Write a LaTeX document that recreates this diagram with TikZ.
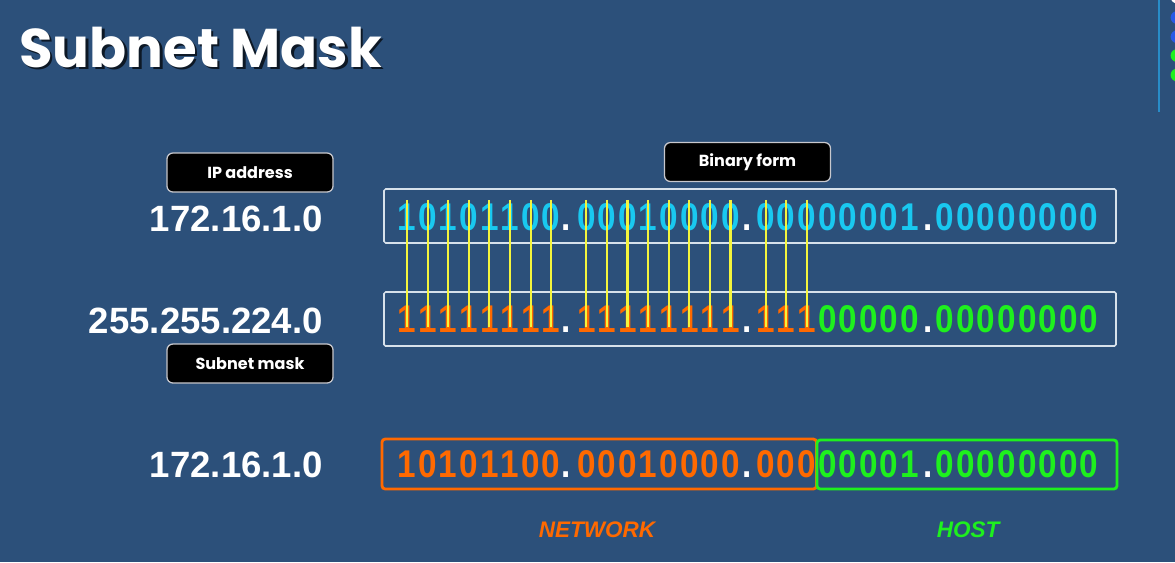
\documentclass[tikz,border=0pt]{standalone}
\usepackage{fontspec}
\setmainfont{Liberation Sans}
\newfontfamily\tagfont{Poppins}
\newfontfamily\bitfont[FakeStretch=0.86]{Liberation Sans}
\usepackage{tikz}
\usetikzlibrary{positioning, calc}
\definecolor{slidebg}{RGB}{44,80,122}
\definecolor{ipblue}{RGB}{25,200,240}
\definecolor{netorange}{RGB}{255,105,0}
\definecolor{hostgreen}{RGB}{30,240,30}
\definecolor{linkyellow}{RGB}{245,245,60}
\definecolor{boxedge}{RGB}{215,225,235}
\definecolor{tagedge}{RGB}{200,200,205}
\definecolor{sideblue}{RGB}{40,140,200}
\definecolor{dotblue}{RGB}{40,90,230}
\tikzset{
	bitnum/.style={anchor=base, inner sep=0pt, font=\bitfont\fontsize{27.5}{30}\selectfont\bfseries}
}
\tikzset{
	addrnum/.style={anchor=base east, inner sep=0pt, text=white, font=\fontsize{26}{30}\selectfont\bfseries}
}
\tikzset{
	tagbox/.style={draw=tagedge, fill=black, text=white, line width=0.9pt, rounded corners=0.15cm,
		minimum width=4.15cm, minimum height=0.975cm, font=\tagfont\bfseries\fontsize{11.4}{13}\selectfont},
	rowbox/.style={draw=boxedge, line width=1.1pt, rounded corners=0.04cm},
	bitlink/.style={draw=linkyellow, line width=1.5pt, shorten <=-0.07cm, shorten >=0.12cm},
	fieldlabel/.style={inner sep=0pt, font=\fontsize{16}{18}\selectfont\bfseries\itshape}
}
\newcommand{\ipbits}{1,0,1,0,1,1,0,0,0,0,0,1,0,0,0,0,0,0,0,0,0,0,0,1,0,0,0,0,0,0,0,0}
\newcommand{\maskbits}{1,1,1,1,1,1,1,1,1,1,1,1,1,1,1,1,1,1,1,0,0,0,0,0,0,0,0,0,0,0,0,0}

\begin{document}
\begin{tikzpicture}[>=stealth, x=0.025cm, y=-0.025cm]
      \fill[slidebg] (0,0) rectangle (1175,562);
      \useasboundingbox (0,0) rectangle (1175,562);
      \clip (0,0) rectangle (1175,562);
      % title with shadow
      \node[anchor=base west, inner sep=0pt, text=black!70!slidebg, font=\tagfont\bfseries\fontsize{38.8}{44}\selectfont] (titleshadow) at (21.5,69.5) {Subnet Mask};
      \node[anchor=base west, inner sep=0pt, text=white, font=\tagfont\bfseries\fontsize{38.8}{44}\selectfont] (title) at (19,67) {Subnet Mask};
      % side bar and dots
      \draw[sideblue, line width=1.4pt] (1159,0) -- (1159,112);
      \fill[white] (1177,-3) circle (0.16cm);
      \fill[dotblue] (1177,17.5) circle (0.16cm);
      \fill[dotblue] (1177,36.7) circle (0.16cm);
      \fill[hostgreen] (1177,55.5) circle (0.16cm);
      \fill[hostgreen] (1177,75) circle (0.16cm);
      % tags
      \node[tagbox] (iptag) at (250,172.5) {IP address};
      \node[tagbox] (bintag) at (747.5,162) {Binary form};
      \node[tagbox] (masktag) at (250,363.5) {Subnet mask};
      % dotted decimal values
      \node[addrnum] (ipval) at (323,231) {172.16.1.0};
      \node[addrnum] (maskval) at (323,333) {255.255.224.0};
      \node[addrnum] (resval) at (323,477) {172.16.1.0};
      % frames
      \draw[rowbox] (384,189) rectangle (1116,243);
      \draw[rowbox] (384,292) rectangle (1116,346);
      \draw[netorange, line width=2pt, rounded corners=0.08cm] (382,439) rectangle (816.5,489);
      \draw[hostgreen, line width=2pt, rounded corners=0.08cm] (817,440) rectangle (1117,489);
      % bits
      \foreach \b [count=\n] in \ipbits {
        \pgfmathsetmacro{\bx}{407+20.6*(\n-1)+14.5*int((\n-1)/8)}
        \ifnum\n<20 \def\bitcol{netorange}\else\def\bitcol{hostgreen}\fi
        \node[bitnum, text=ipblue] (ip-\n) at (\bx,230) {\b};
        \node[bitnum, text=\bitcol] (res-\n) at (\bx,477) {\b};
      }
      \foreach \b [count=\n] in \maskbits {
        \pgfmathsetmacro{\bx}{407+20.6*(\n-1)+14.5*int((\n-1)/8)}
        \ifnum\n<20 \def\bitcol{netorange}\else\def\bitcol{hostgreen}\fi
        \node[bitnum, text=\bitcol] (mask-\n) at (\bx,332) {\b};
      }
      \foreach \dx [count=\k] in {566,747,928} {
        \node[bitnum, text=white] (ipdot-\k) at (\dx,230) {.};
        \node[bitnum, text=white] (maskdot-\k) at (\dx,332) {.};
        \node[bitnum, text=white] (resdot-\k) at (\dx,477) {.};
      }
      % network bits line up
      \foreach \n in {1,...,19}
        \draw[bitlink] (ip-\n.north) -- (mask-\n.base);
      % field names
      \node[fieldlabel, text=netorange] (netlbl) at (597,530) {NETWORK};
      \node[fieldlabel, text=hostgreen] (hostlbl) at (968,530) {HOST};
    \end{tikzpicture}
\end{document}
